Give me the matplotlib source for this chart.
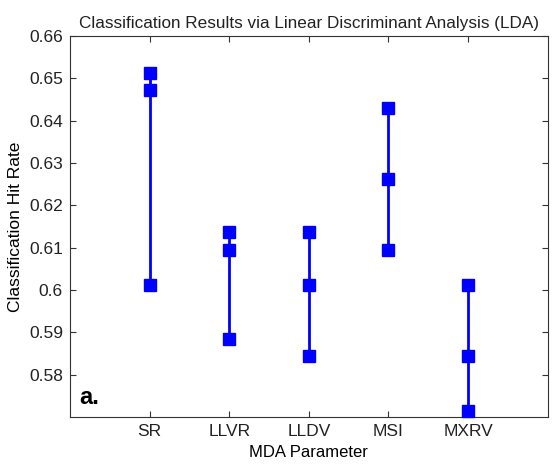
import matplotlib
matplotlib.use("Agg")
import matplotlib.pyplot as plt

plt.rcParams['font.family'] = ['Liberation Sans', 'DejaVu Sans']
plt.rcParams['text.color'] = '#222222'
plt.rcParams['xtick.labelcolor'] = '#222222'
plt.rcParams['ytick.labelcolor'] = '#222222'

params = ["SR", "LLVR", "LLDV", "MSI", "MXRV"]
high = [0.6513, 0.6136, 0.6136, 0.6430, 0.6012]
mid = [0.6472, 0.6095, 0.6012, 0.6262, 0.5843]
low = [0.6012, 0.5884, 0.5843, 0.6095, 0.5714]

fig = plt.figure(figsize=(5.55, 4.67), dpi=100)
ax = fig.add_axes([0.126, 0.107, 0.861, 0.816])

xs = list(range(1, len(params) + 1))
for x, h, m, l in zip(xs, high, mid, low):
    ax.plot([x, x, x], [l, m, h], color="#0000ff", lw=2,
            marker="s", markersize=9, markerfacecolor="#0000ff",
            markeredgecolor="#0000ff", clip_on=False, zorder=3)

ax.set_xlim(0, 6)
ax.set_ylim(0.57, 0.66)
ax.set_xticks(xs)
ax.set_xticklabels(params)
ax.set_yticks([0.58, 0.59, 0.60, 0.61, 0.62, 0.63, 0.64, 0.65, 0.66])
ax.set_yticklabels(["0.58", "0.59", "0.6", "0.61", "0.62", "0.63", "0.64", "0.65", "0.66"])
ax.tick_params(direction="in", top=True, right=True, length=4, labelsize=12.5,
               color="#333333", pad=5)
for s in ax.spines.values():
    s.set_color("#333333")

ax.set_title("Classification Results via Linear Discriminant Analysis (LDA)", fontsize=12.3, pad=6)
ax.set_xlabel("MDA Parameter", fontsize=12, labelpad=4)
ax.set_ylabel("Classification Hit Rate", fontsize=12.5, labelpad=4)
ax.text(0.02, 0.035, "a.", transform=ax.transAxes, fontsize=17, fontweight="heavy",
        color="black")

fig.savefig("out.png", dpi=100)
